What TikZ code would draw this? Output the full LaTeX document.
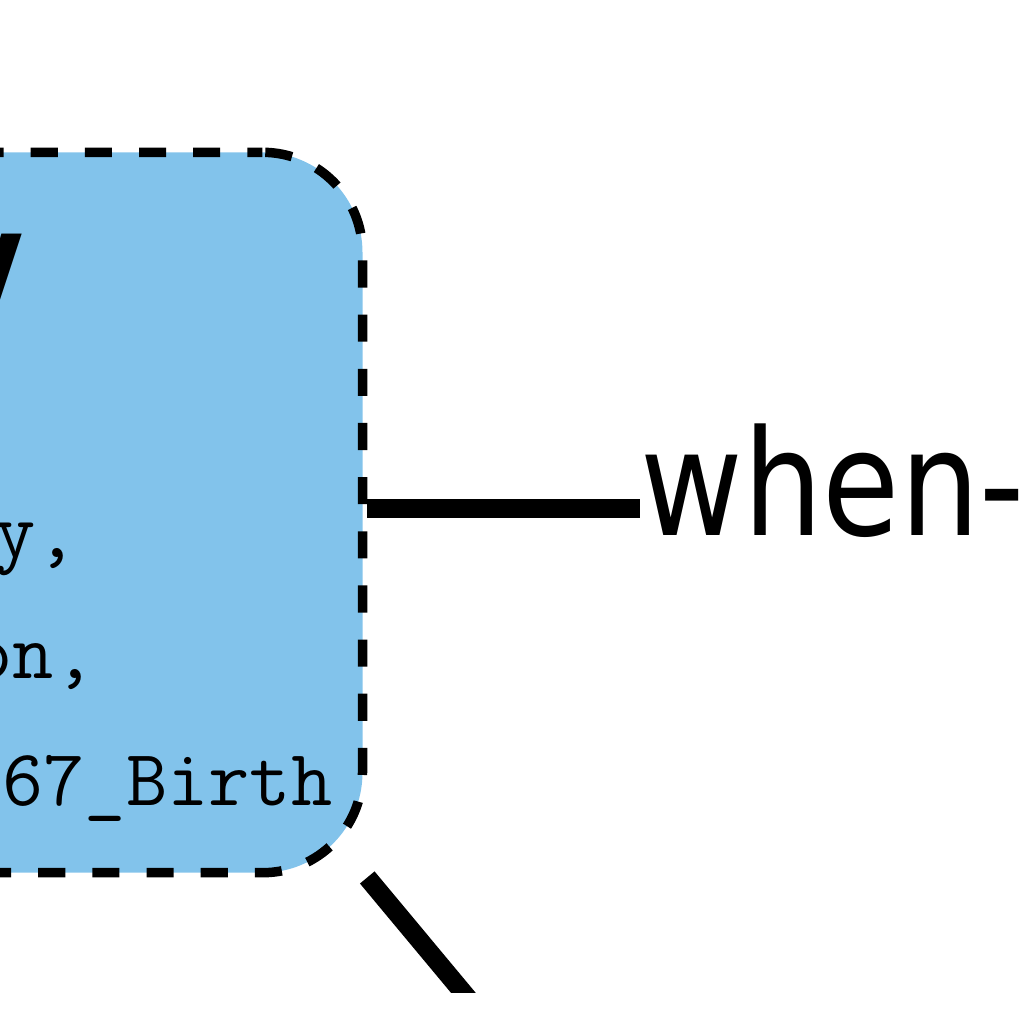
\documentclass[tikz,border=0pt]{standalone}
\usepackage{fontspec}
\newfontfamily\labelfont[FakeStretch=0.854]{DejaVu Sans}
\newfontfamily\titlefont[FakeStretch=0.854]{DejaVu Sans Bold}
\definecolor{boxblue}{RGB}{130,195,235}
\tikzset{
  eventbox/.style={rectangle, rounded corners=1cm, fill=boxblue, draw=black,
    line width=2.7pt, dash pattern=on 7.7pt off 7.7pt, dash phase=3.4pt,
    minimum width=782.5*0.01cm, minimum height=7.2cm, inner sep=0pt},
  codeline/.style={anchor=base east, inner sep=0pt, font=\ttfamily\fontsize{22.76}{27}\selectfont},
  edgelabel/.style={anchor=base west, inner sep=0pt, font=\labelfont\fontsize{41.8}{50}\selectfont},
  link/.style={line width=5.4pt}
}
\begin{document}
\begin{tikzpicture}[x=0.01cm, y=-0.01cm]
    \useasboundingbox (0,0) rectangle (1024,1024);
    \node[eventbox] (event) at (-28.75,512.5) {};
    \node[anchor=base east, inner sep=0pt, font=\titlefont\fontsize{38.7}{46}\selectfont] (title) at (25,308) {y};
    \node[codeline] (line1) at (78,557) {y,};
    \node[codeline] (line2) at (96,678) {on,};
    \node[codeline] (line3) at (333,805) {67\_Birth};
    \node[edgelabel] (when) at (640,535) {when-};
    \coordinate (tail) at (493.5,1029);
    \draw[link] ([yshift=0.04cm]event.east) -- ([yshift=0.04cm]event.east -| when.west);
    \draw[link] (event.south east) -- (tail);
    \fill[white] (0,993) rectangle (1024,1024);
\end{tikzpicture}
\end{document}
